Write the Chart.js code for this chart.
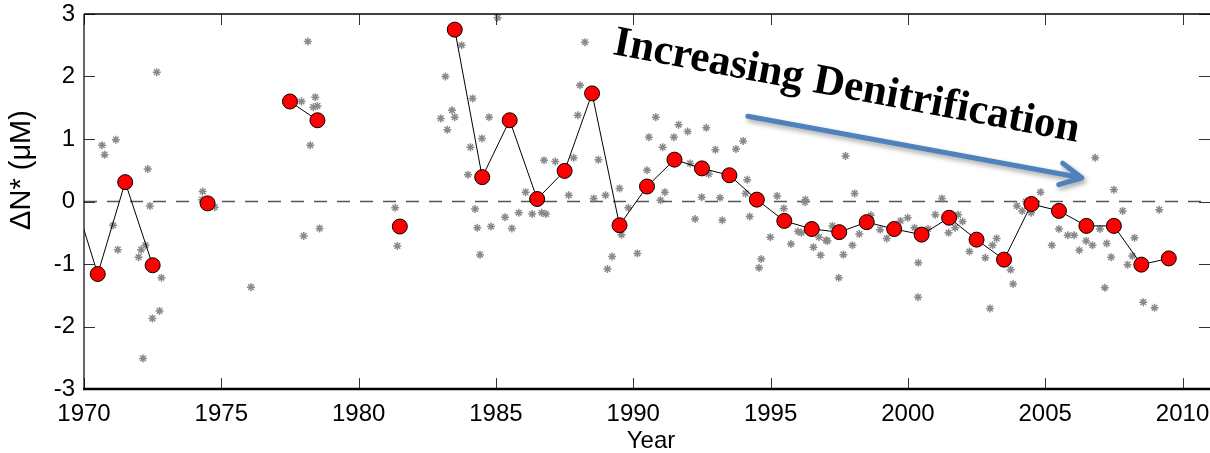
<!DOCTYPE html>
<html>
<head>
<meta charset="utf-8">
<script src="https://cdn.jsdelivr.net/npm/chart.js@4/dist/chart.umd.min.js"></script>
<style>
  html, body { margin: 0; padding: 0; background: #fff; }
  #wrap { width: 1210px; height: 453px; }
</style>
</head>
<body>
<div id="wrap"><canvas id="chart" width="1210" height="453"></canvas></div>
<script>
// annual means (red circles); null breaks the line
const meanYears = [1969.5, 1970.5, 1971.5, 1972.5, 1973.5, 1974.5, 1975.5, 1976.5, 1977.5, 1978.5,
  1979.5, 1980.5, 1981.5, 1982.5, 1983.5, 1984.5, 1985.5, 1986.5, 1987.5, 1988.5,
  1989.5, 1990.5, 1991.5, 1992.5, 1993.5, 1994.5, 1995.5, 1996.5, 1997.5, 1998.5,
  1999.5, 2000.5, 2001.5, 2002.5, 2003.5, 2004.5, 2005.5, 2006.5, 2007.5, 2008.5, 2009.5];
const meanValues = [0.25, -1.16, 0.31, -1.02, null, -0.03, null, null, 1.60, 1.30,
  null, null, -0.40, null, 2.75, 0.39, 1.30, 0.04, 0.49, 1.73,
  -0.38, 0.24, 0.67, 0.53, 0.42, 0.03, -0.31, -0.44, -0.49, -0.33,
  -0.44, -0.53, -0.26, -0.61, -0.93, -0.04, -0.15, -0.39, -0.39, -1.01, -0.91];

// individual samples (grey asterisks)
const sampleYears = [1970.66, 1970.75, 1971.16, 1971.06, 1971.23, 1971.99, 1972.08, 1972.24, 1972.32, 1972.40,
  1972.65, 1972.82, 1972.49, 1972.75, 1972.15, 1974.32, 1974.30, 1974.76, 1976.08, 1978.15,
  1977.92, 1978.42, 1978.35, 1978.50, 1978.24, 1978.00, 1978.58, 1981.33, 1981.41, 1985.06,
  1983.75, 1983.16, 1983.40, 1982.99, 1983.50, 1983.23, 1984.15, 1984.75, 1984.49, 1984.07,
  1983.98, 1984.24, 1984.32, 1984.82, 1984.42, 1985.33, 1985.58, 1985.83, 1986.08, 1986.32,
  1986.67, 1986.82, 1986.75, 1987.16, 1987.83, 1987.65, 1988.06, 1988.24, 1987.98, 1988.73,
  1988.56, 1988.99, 1989.50, 1989.57, 1989.23, 1989.06, 1989.82, 1990.15, 1990.50, 1990.57,
  1990.82, 1991.07, 1991.15, 1990.99, 1991.48, 1991.65, 1991.98, 1992.07, 1992.25, 1992.49,
  1992.66, 1992.75, 1992.99, 1993.16, 1993.24, 1993.74, 1994.00, 1994.15, 1994.09, 1994.24,
  1994.66, 1994.58, 1994.99, 1995.24, 1995.48, 1995.74, 1996.00, 1996.12, 1996.27, 1996.25,
  1996.56, 1996.82, 1996.76, 1997.02, 1997.07, 1997.25, 1997.48, 1997.65, 1997.73, 1997.98,
  1998.23, 1998.06, 1998.65, 1998.99, 1999.23, 1999.73, 1999.99, 2000.24, 2000.38, 2000.37,
  2000.73, 2001.00, 2001.24, 2001.48, 2001.72, 2001.83, 2001.99, 2002.24, 2002.82, 2003.08,
  2003.23, 2002.99, 2003.74, 2003.83, 2003.97, 2004.16, 2004.30, 2004.83, 2004.49, 2005.24,
  2005.50, 2005.82, 2006.05, 2006.24, 2006.49, 2006.72, 2006.82, 2006.99, 2007.17, 2007.24,
  2007.40, 2007.50, 2007.82, 2008.00, 2008.17, 2008.25, 2008.57, 2008.98, 2009.15];
const sampleValues = [0.90, 0.75, 0.99, -0.38, -0.77, -0.89, -0.77, -0.70, 0.52, -0.07,
  2.07, -1.22, -1.87, -1.75, -2.51, 0.16, 0.03, -0.09, -1.37, 2.56,
  1.60, 1.67, 1.51, 1.53, 0.90, -0.55, -0.43, -0.10, -0.71, 2.94,
  2.50, 2.00, 1.46, 1.33, 1.35, 1.15, 1.65, 1.35, 1.01, 0.87,
  0.43, -0.12, -0.42, -0.40, -0.85, -0.25, -0.43, -0.18, 0.15, -0.20,
  -0.18, -0.20, 0.66, 0.64, 0.70, 0.10, 1.86, 2.55, 1.38, 0.67,
  0.05, 0.10, 0.21, -0.53, -0.88, -1.08, -0.10, -0.83, 0.50, 1.03,
  1.35, 0.87, 0.15, 0.02, 1.03, 1.23, 1.12, 0.61, -0.28, 0.07,
  1.18, 0.44, 0.83, 0.06, -0.30, 0.84, 0.97, 0.35, 0.13, -0.24,
  -0.92, -1.06, -0.57, 0.09, -0.11, -0.68, -0.48, -0.50, 0.03, -0.01,
  -0.73, -0.86, -0.57, -0.62, -0.63, -0.39, -1.22, -0.85, 0.73, -0.70,
  -0.52, 0.13, -0.22, -0.45, -0.59, -0.31, -0.26, -0.42, -0.98, -1.53,
  -0.44, -0.21, 0.05, -0.50, -0.42, -0.21, -0.32, -0.80, -0.90, -0.70,
  -0.59, -1.71, -1.09, -1.32, -0.07, -0.15, 0.00, 0.15, -0.18, -0.70,
  -0.44, -0.54, -0.54, -0.78, -0.63, -0.70, 0.70, -0.44, -1.38, -0.67,
  -0.89, 0.19, -0.15, -1.01, -0.87, -0.58, -1.61, -1.70, -0.13];

const xTicks = [1970, 1975, 1980, 1985, 1990, 1995, 2000, 2005, 2010];
const yTicks = [-3, -2, -1, 0, 1, 2, 3];

const annotationText = "Increasing Denitrification";
const textAnchor = { x: 1989.22, y: 2.36 };
const arrowFrom = { x: 1994.17, y: 1.365 };
const arrowTo = { x: 2006.33, y: 0.379 };

const sansFont = 'Arial, "Liberation Sans", Helvetica, sans-serif';

// keep the plot box exactly where the reference has it
const noPad = (s) => { s.paddingTop = 0; s.paddingBottom = 0; s.paddingLeft = 0; s.paddingRight = 0; };

const framePlugin = {
  id: "frame",
  beforeDatasetsDraw(chart) {
    const { ctx, chartArea: a, scales: { y } } = chart;
    const y0 = y.getPixelForValue(0);
    ctx.save();
    ctx.strokeStyle = "#555";
    ctx.lineWidth = 1.5;
    ctx.setLineDash([13, 10]);
    ctx.beginPath();
    ctx.moveTo(a.left, y0);
    ctx.lineTo(a.right, y0);
    ctx.stroke();
    ctx.restore();
  },
  afterDraw(chart) {
    const { ctx, chartArea: a, scales: { x, y } } = chart;
    ctx.save();
    // inward ticks
    ctx.strokeStyle = "#333";
    ctx.lineWidth = 1;
    ctx.beginPath();
    xTicks.forEach((t) => {
      const px = Math.round(x.getPixelForValue(t)) + 0.5;
      ctx.moveTo(px, a.bottom); ctx.lineTo(px, a.bottom - 11);
      ctx.moveTo(px, a.top); ctx.lineTo(px, a.top + 11);
    });
    yTicks.forEach((t) => {
      const py = Math.round(y.getPixelForValue(t)) + 0.5;
      ctx.moveTo(a.left, py); ctx.lineTo(a.left + 11, py);
      ctx.moveTo(a.right, py); ctx.lineTo(a.right - 11, py);
    });
    ctx.stroke();

    // box
    ctx.strokeStyle = "#000";
    ctx.lineWidth = 1.5;
    ctx.beginPath();
    ctx.moveTo(a.left, a.top); ctx.lineTo(a.right, a.top);
    ctx.stroke();
    ctx.lineWidth = 1.2;
    ctx.beginPath();
    ctx.moveTo(a.left, a.top); ctx.lineTo(a.left, a.bottom);
    ctx.stroke();
    ctx.lineWidth = 2.5;
    ctx.beginPath();
    ctx.moveTo(a.left - 1, a.bottom); ctx.lineTo(a.right, a.bottom);
    ctx.stroke();

    // axis titles
    ctx.fillStyle = "#000";
    ctx.font = "24px " + sansFont;
    ctx.textAlign = "center";
    ctx.textBaseline = "alphabetic";
    ctx.fillText("Year", (a.left + a.right) / 2 + 4, 448);
    ctx.save();
    ctx.translate(22, 170);
    ctx.rotate(-Math.PI / 2);
    ctx.font = "29px " + sansFont;
    ctx.textBaseline = "middle";
    ctx.fillText("\u0394N* (\u03bcM)", 0, 0);
    ctx.restore();

    // annotation text
    ctx.save();
    ctx.translate(x.getPixelForValue(textAnchor.x), y.getPixelForValue(textAnchor.y));
    ctx.rotate(10.7 * Math.PI / 180);
    ctx.font = 'bold 43px "Times New Roman", "Liberation Serif", serif';
    ctx.textAlign = "left";
    ctx.fillStyle = "#000";
    ctx.fillText(annotationText, 0, 0);
    ctx.restore();

    // arrow
    const x1 = x.getPixelForValue(arrowFrom.x), y1 = y.getPixelForValue(arrowFrom.y);
    const x2 = x.getPixelForValue(arrowTo.x), y2 = y.getPixelForValue(arrowTo.y);
    const ang = Math.atan2(y2 - y1, x2 - x1);
    const head = 24, spread = 27 * Math.PI / 180;
    ctx.save();
    ctx.strokeStyle = "#4F81BD";
    ctx.lineWidth = 5;
    ctx.lineCap = "round";
    ctx.lineJoin = "round";
    ctx.shadowColor = "rgba(0,0,0,0.35)";
    ctx.shadowBlur = 5;
    ctx.shadowOffsetX = 2;
    ctx.shadowOffsetY = 3;
    ctx.beginPath();
    ctx.moveTo(x1, y1);
    ctx.lineTo(x2, y2);
    ctx.moveTo(x2 - head * Math.cos(ang - spread), y2 - head * Math.sin(ang - spread));
    ctx.lineTo(x2, y2);
    ctx.lineTo(x2 - head * Math.cos(ang + spread), y2 - head * Math.sin(ang + spread));
    ctx.stroke();
    ctx.restore();

    ctx.restore();
  }
};

const meanPoints = meanYears.map((yr, i) => ({ x: yr, y: meanValues[i] }));
const samplePoints = sampleYears.map((yr, i) => ({ x: yr, y: sampleValues[i] }));

new Chart(document.getElementById("chart"), {
  type: "scatter",
  data: {
    datasets: [
      {
        type: "line",
        label: "annual mean",
        data: meanPoints,
        showLine: true,
        spanGaps: false,
        borderColor: "#000",
        borderWidth: 1,
        pointRadius: 7.5,
        pointBackgroundColor: "#ff0000",
        pointBorderColor: "#000",
        pointBorderWidth: 1,
        order: 0
      },
      {
        label: "samples",
        data: samplePoints,
        pointStyle: "star",
        pointRadius: 4,
        borderColor: "#8a8a8a",
        backgroundColor: "#8a8a8a",
        pointBorderWidth: 1.5,
        order: 1
      }
    ]
  },
  options: {
    responsive: false,
    animation: false,
    devicePixelRatio: 1,
    layout: { autoPadding: false, padding: { top: 14, left: 0, right: 0, bottom: 0 } },
    plugins: { legend: { display: false }, tooltip: { enabled: false } },
    scales: {
      x: {
        type: "linear",
        min: 1970,
        max: 2011,
        afterFit: (s) => { s.height = 64; noPad(s); },
        grid: { display: false, drawTicks: false },
        border: { display: false },
        ticks: {
          stepSize: 5,
          includeBounds: false,
          padding: 11,
          color: "#000",
          font: { size: 24, family: sansFont },
          callback: (v) => String(v)
        }
      },
      y: {
        min: -3,
        max: 3,
        afterFit: (s) => { s.width = 84; noPad(s); },
        grid: { display: false, drawTicks: false },
        border: { display: false },
        ticks: {
          stepSize: 1,
          padding: 9,
          color: "#000",
          font: { size: 24, family: sansFont }
        }
      }
    }
  },
  plugins: [framePlugin]
});
</script>
</body>
</html>
